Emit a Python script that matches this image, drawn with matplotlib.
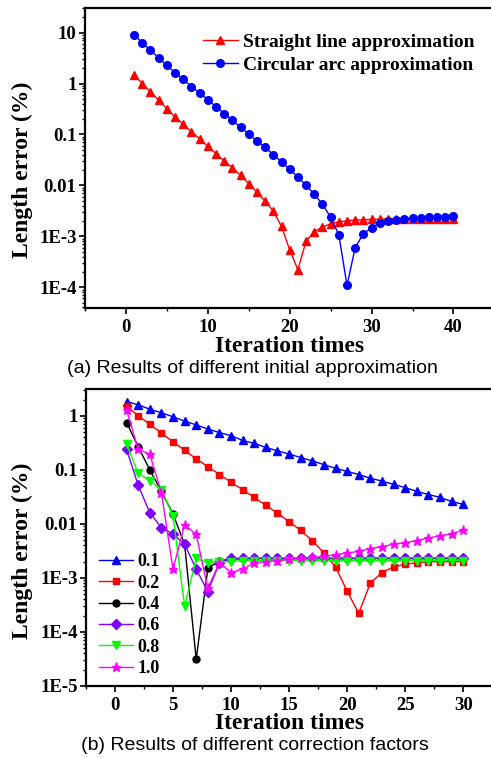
import matplotlib
matplotlib.use("Agg")
import matplotlib.pyplot as plt
from matplotlib.ticker import MultipleLocator, LogLocator, NullFormatter, FixedLocator, FixedFormatter

# (a) initial approximation
iters_a = list(range(1, 41))
straight = [1.48, 1.0, 0.686, 0.47, 0.32, 0.22, 0.158, 0.112, 0.083, 0.058,
            0.042, 0.030, 0.0223, 0.0157, 0.0108, 0.0074, 0.0049, 0.00313, 0.00156, 0.00054,
            0.00022, 0.0008, 0.00124, 0.0015, 0.00176, 0.00193, 0.0020, 0.0021, 0.0021, 0.00215,
            0.00215, 0.0022, 0.0022, 0.0022, 0.0022, 0.0022, 0.0022, 0.0022, 0.0022, 0.0022]
circular = [9.06, 6.3, 4.5, 3.2, 2.26, 1.64, 1.2, 0.87, 0.655, 0.48,
            0.35, 0.257, 0.19, 0.138, 0.102, 0.0745, 0.056, 0.040, 0.0288, 0.0206,
            0.0146, 0.010, 0.00676, 0.00423, 0.00238, 0.00107, 0.000108, 0.0006, 0.00112, 0.00147,
            0.00183, 0.00198, 0.0021, 0.0022, 0.0023, 0.0023, 0.0024, 0.0024, 0.0024, 0.0025]
yticks_a = [1e-4, 1e-3, 1e-2, 1e-1, 1, 10]
ylabels_a = ["1E-4", "1E-3", "0.01", "0.1", "1", "10"]

# (b) correction factors
iters_b = list(range(1, 31))
f01 = [1.84, 1.6, 1.33, 1.14, 0.96, 0.8, 0.68, 0.57, 0.49, 0.43,
       0.35, 0.31, 0.26, 0.225, 0.197, 0.169, 0.147, 0.125, 0.107, 0.094,
       0.082, 0.07, 0.062, 0.054, 0.047, 0.04, 0.035, 0.031, 0.026, 0.023]
f02 = [1.53, 1.0, 0.7, 0.48, 0.33, 0.23, 0.16, 0.115, 0.082, 0.059,
       0.043, 0.031, 0.022, 0.0158, 0.011, 0.0076, 0.0049, 0.0029, 0.0016, 0.00057,
       0.000222, 0.0008, 0.00126, 0.0016, 0.0018, 0.0019, 0.0020, 0.0020, 0.0020, 0.0020]
f04 = [0.75, 0.27, 0.1, 0.04, 0.0153, 0.0042, 3.1e-5, 0.0015, 0.0021, 0.0022,
       0.0023, 0.0023, 0.0023, 0.0023, 0.0023, 0.0023, 0.0023, 0.0023, 0.0023, 0.0023,
       0.0023, 0.0023, 0.0023, 0.0023, 0.0023, 0.0023, 0.0023, 0.0023, 0.0023, 0.0023]
f06 = [0.24, 0.052, 0.0162, 0.0085, 0.0065, 0.0042, 0.00146, 0.00056, 0.0019, 0.0023,
       0.0023, 0.0023, 0.0023, 0.0023, 0.0023, 0.0023, 0.0023, 0.0023, 0.0023, 0.0023,
       0.0023, 0.0023, 0.0023, 0.0023, 0.0023, 0.0023, 0.0023, 0.0023, 0.0023, 0.0023]
f08 = [0.30, 0.087, 0.063, 0.043, 0.0143, 0.0003, 0.0023, 0.0019, 0.002, 0.002,
       0.0021, 0.0021, 0.0021, 0.0021, 0.0021, 0.0021, 0.0021, 0.0021, 0.0021, 0.0021,
       0.0021, 0.0021, 0.0021, 0.0021, 0.0021, 0.0021, 0.0021, 0.0021, 0.0021, 0.0021]
f10 = [1.29, 0.24, 0.195, 0.038, 0.00146, 0.0096, 0.0064, 0.00064, 0.0019, 0.00126,
       0.00146, 0.0019, 0.002, 0.0021, 0.0022, 0.0023, 0.0024, 0.0025, 0.0027, 0.0029,
       0.0031, 0.0035, 0.0038, 0.0042, 0.0045, 0.0049, 0.0055, 0.006, 0.0066, 0.0076]
yticks_b = [1e-5, 1e-4, 1e-3, 1e-2, 1e-1, 1]
ylabels_b = ["1E-5", "1E-4", "1E-3", "0.01", "0.1", "1"]

serif = "Liberation Serif"
label_font = dict(family=serif, weight="bold", size=17)

fig = plt.figure(figsize=(4.91, 7.58), dpi=100)

def style_axis(ax, xmaj, xmin, yticks, ylabels):
    ax.set_yscale("log")
    ax.xaxis.set_major_locator(MultipleLocator(xmaj))
    ax.xaxis.set_minor_locator(MultipleLocator(xmin))
    ax.yaxis.set_major_locator(FixedLocator(yticks))
    ax.yaxis.set_major_formatter(FixedFormatter(ylabels))
    ax.yaxis.set_minor_locator(LogLocator(base=10, subs=range(2, 10), numticks=20))
    ax.yaxis.set_minor_formatter(NullFormatter())
    ax.tick_params(which="major", direction="out", length=4, width=1.2)
    ax.tick_params(axis="x", which="major", pad=4)
    ax.tick_params(axis="y", which="major", pad=2)
    ax.tick_params(which="minor", direction="out", length=2.5, width=1)
    for sp in ax.spines.values():
        sp.set_linewidth(1.6)
    ax.set_xlabel("Iteration times", **label_font)
    ax.set_ylabel("Length error (%)", **label_font)
    for lab in ax.get_xticklabels() + ax.get_yticklabels():
        lab.set_fontfamily(serif)
        lab.set_fontweight("bold")
        lab.set_fontsize(13.5)

# ---- (a)
ax1 = fig.add_axes([0.173, 1 - 308 / 758, 0.834, 299.7 / 758])
ax1.plot(iters_a, straight, color="red", marker="^", markersize=5.5, lw=1, label="Straight line approximation")
ax1.plot(iters_a, circular, color="blue", marker="o", markersize=5.5, lw=1, label="Circular arc approximation")
ax1.set_xlim(-5, 45)
ax1.set_ylim(3.9e-5, 30)
style_axis(ax1, 10, 5, yticks_a, ylabels_a)
ax1.xaxis.set_label_coords(0.5, -0.095)
ax1.yaxis.set_label_coords(-0.127, 0.46)
ax1.legend(loc="upper left", bbox_to_anchor=(0.288, 0.917), frameon=False,
           prop=dict(family=serif, weight="bold", size=14),
           handlelength=1.8, handletextpad=0.25, labelspacing=0.3, borderaxespad=0, borderpad=0)

# ---- (b)
ax2 = fig.add_axes([0.175, 1 - 686 / 758, 0.8275, 296.7 / 758])
ax2.plot(iters_b, f01, color="#0000ff", marker="^", markersize=5.5, lw=1, label="0.1")
ax2.plot(iters_b, f02, color="#ff0000", marker="s", markersize=5, lw=1, label="0.2")
ax2.plot(iters_b, f04, color="black", marker="o", markersize=5, lw=1, label="0.4")
ax2.plot(iters_b, f06, color="#8000ff", marker="D", markersize=5, lw=1, label="0.6")
ax2.plot(iters_b, f08, color="#00ff00", marker="v", markersize=5.5, lw=1, label="0.8")
ax2.plot(iters_b, f10, color="#ff00ff", marker="*", markersize=6.5, lw=1, label="1.0")
ax2.set_xlim(-2.5, 32.5)
ax2.set_ylim(1e-5, 3.1)
style_axis(ax2, 5, 2.5, yticks_b, ylabels_b)
ax2.xaxis.set_label_coords(0.5, -0.092)
ax2.yaxis.set_label_coords(-0.13, 0.455)
ax2.legend(loc="lower left", bbox_to_anchor=(0.032, 0.03), frameon=False,
           prop=dict(family=serif, weight="bold", size=13),
           handlelength=1.9, handletextpad=0.25, labelspacing=0.24, borderaxespad=0, borderpad=0)

fig.text(0.515, 1 - 369 / 758, "(a) Results of different initial approximation",
         ha="center", va="center", family="Liberation Sans", fontsize=14)
fig.text(0.52, 1 - 745 / 758, "(b) Results of different correction factors",
         ha="center", va="center", family="Liberation Sans", fontsize=14)

fig.savefig("out.png", dpi=100)
